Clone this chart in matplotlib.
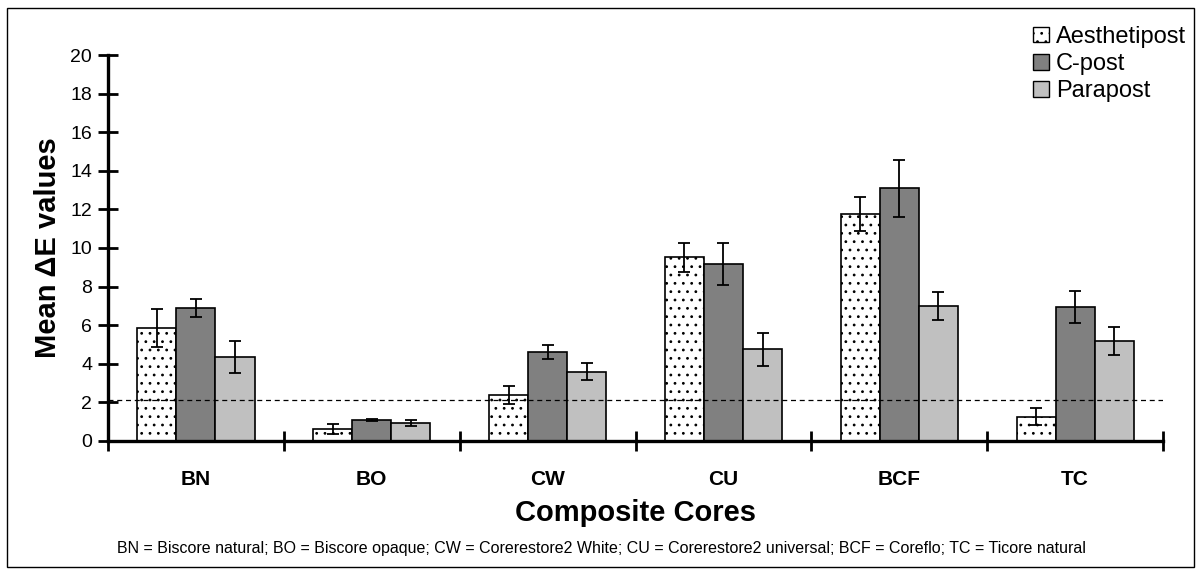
import matplotlib
matplotlib.use("Agg")
import matplotlib.pyplot as plt
import numpy as np
from matplotlib.patches import Rectangle, Patch

plt.rcParams["font.family"] = ["Liberation Sans", "DejaVu Sans"]
plt.rcParams["hatch.linewidth"] = 0.8
plt.rcParams["hatch.color"] = "#505050"

cores = ["BN", "BO", "CW", "CU", "BCF", "TC"]
series = ["Aesthetipost", "C-post", "Parapost"]

aesthetipost = [5.87, 0.62, 2.40, 9.52, 11.76, 1.26]
aesthetipost_err = [0.98, 0.24, 0.47, 0.74, 0.90, 0.45]
cpost = [6.89, 1.10, 4.63, 9.17, 13.10, 6.93]
cpost_err = [0.47, 0.05, 0.36, 1.10, 1.47, 0.84]
parapost = [4.35, 0.95, 3.59, 4.75, 7.01, 5.20]
parapost_err = [0.82, 0.15, 0.45, 0.86, 0.73, 0.72]

threshold = 2.1

footnote = ("BN = Biscore natural; BO = Biscore opaque; CW = Corerestore2 White; "
            "CU = Corerestore2 universal; BCF = Coreflo; TC = Ticore natural")

fig = plt.figure(figsize=(12.02, 5.76), dpi=100)
ax = fig.add_axes([0.0899, 0.2344, 0.9676 - 0.0899, 0.9045 - 0.2344])

# outer frame around the whole chart
fig.patches.append(Rectangle((0.006, 0.016), 0.987, 0.970, transform=fig.transFigure,
                             fill=False, edgecolor="black", linewidth=1.0))

x = np.arange(len(cores)) + 0.5
w = 0.222
styles = [
    dict(facecolor="white", hatch=".."),
    dict(facecolor="#808080"),
    dict(facecolor="#C0C0C0"),
]
values = [aesthetipost, cpost, parapost]
errors = [aesthetipost_err, cpost_err, parapost_err]

for i, (vals, errs, st) in enumerate(zip(values, errors, styles)):
    ax.bar(x + (i - 1) * w, vals, width=w, edgecolor="black", linewidth=1.2,
           zorder=2, **st)
    ax.errorbar(x + (i - 1) * w, vals, yerr=errs, fmt="none", ecolor="black",
                elinewidth=1.3, capsize=4, capthick=1.3, zorder=4)

ax.axhline(threshold, color="black", linestyle=(0, (4, 3)), linewidth=0.9, zorder=3)

ax.set_xlim(0, len(cores))
ax.set_ylim(0, 20)
ax.set_yticks(np.arange(0, 21, 2))
ax.set_xticks(np.arange(0, len(cores) + 1))
ax.set_xticklabels([])
ax.set_xticks(x, minor=True)
ax.set_xticklabels(cores, minor=True, fontsize=15, fontweight="bold")
ax.tick_params(axis="x", which="minor", length=0, pad=21)
ax.tick_params(axis="x", which="major", direction="inout", length=15, width=2)
ax.tick_params(axis="y", direction="inout", length=15, width=2, labelsize=14, pad=4)

for side in ["top", "right"]:
    ax.spines[side].set_visible(False)
for side in ["left", "bottom"]:
    ax.spines[side].set_linewidth(2.4)

ax.set_ylabel("Mean \u0394E values", fontsize=21, fontweight="bold", labelpad=6)
ax.set_xlabel("Composite Cores", fontsize=21, fontweight="bold", labelpad=7)

fig.text(0.5, 0.048, footnote, ha="center", va="center", fontsize=11.5)

handles = [
    Patch(facecolor="white", edgecolor="black", hatch="..", linewidth=1.0),
    Patch(facecolor="#808080", edgecolor="black", linewidth=1.0),
    Patch(facecolor="#C0C0C0", edgecolor="black", linewidth=1.0),
]
ax.legend(handles, series, loc="upper left", bbox_to_anchor=(0.868, 1.10),
          frameon=False, fontsize=17, handlelength=0.65, handleheight=0.65,
          handletextpad=0.3, labelspacing=0.22, borderaxespad=0)

fig.savefig("out.png", dpi=100)
